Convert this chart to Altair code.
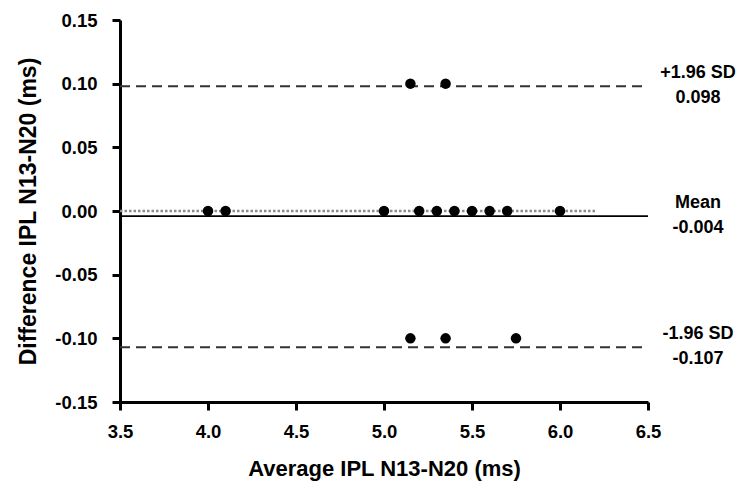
import altair as alt
import pandas as pd

# Data
avg_ipl = [5.15, 5.35, 4.0, 4.1, 5.0, 5.2, 5.3, 5.4, 5.5, 5.6, 5.7, 6.0, 5.15, 5.35, 5.75]
diff_ipl = [0.10, 0.10, 0.0, 0.0, 0.0, 0.0, 0.0, 0.0, 0.0, 0.0, 0.0, 0.0, -0.10, -0.10, -0.10]

limit_names = ["+1.96 SD", "Mean", "-1.96 SD"]
limit_values = [0.098, -0.004, -0.107]
limit_texts = ["0.098", "-0.004", "-0.107"]
limit_kind = ["dash", "solid", "dash"]

x_range = [3.5, 6.5]
zero_line_x = [3.5, 6.2]
zero_line_y = [0.0]

x_ticks = [3.5, 4.0, 4.5, 5.0, 5.5, 6.0, 6.5]
y_ticks = [-0.15, -0.10, -0.05, 0.0, 0.05, 0.10, 0.15]

FONT = "Liberation Sans"

points = pd.DataFrame({"avg": avg_ipl, "diff": diff_ipl})
limits = pd.DataFrame({
    "name": limit_names,
    "value": limit_values,
    "text": limit_texts,
    "kind": limit_kind,
    "x1": [x_range[0]] * 3,
    "x2": [x_range[1]] * 3,
})
zero = pd.DataFrame({"x1": [zero_line_x[0]], "x2": [zero_line_x[1]], "y": zero_line_y})

xscale = alt.Scale(domain=x_range, nice=False, zero=False)
yscale = alt.Scale(domain=[-0.15, 0.15], nice=False, zero=False)

xaxis = alt.Axis(values=x_ticks, format=".1f", title="Average IPL N13-N20 (ms)",
                 titlePadding=18, labelPadding=12, grid=False, labelFlush=False,
                 titleFontSize=22)
yaxis = alt.Axis(values=y_ticks, format=".2f", title="Difference IPL N13-N20 (ms)",
                 labelExpr="replace(datum.label, '\u2212', '-')",
                 titlePadding=14, labelPadding=15, grid=False, labelFlush=False)

base_pts = alt.Chart(points).mark_circle(size=110, color="black", opacity=1).encode(
    x=alt.X("avg:Q", scale=xscale, axis=xaxis),
    y=alt.Y("diff:Q", scale=yscale, axis=yaxis),
)

dotted = alt.Chart(zero).mark_rule(color="#8c8c8c", strokeWidth=2.5, strokeDash=[2.5, 2]).encode(
    x=alt.X("x1:Q", scale=xscale), x2="x2:Q", y=alt.Y("y:Q", scale=yscale)
)

dashed = alt.Chart(limits).transform_filter("datum.kind == 'dash'").mark_rule(
    color="#333333", strokeWidth=2, strokeDash=[10, 6]
).encode(x=alt.X("x1:Q", scale=xscale), x2="x2:Q", y=alt.Y("value:Q", scale=yscale))

solid = alt.Chart(limits).transform_filter("datum.kind == 'solid'").mark_rule(
    color="black", strokeWidth=1.6
).encode(x=alt.X("x1:Q", scale=xscale), x2="x2:Q", y=alt.Y("value:Q", scale=yscale))

name_text = alt.Chart(limits).mark_text(
    font=FONT, fontSize=18, fontWeight="bold", color="black", align="center",
    baseline="middle", dx=50, dy=-13
).encode(x=alt.X("x2:Q", scale=xscale), y=alt.Y("value:Q", scale=yscale), text="name:N")

value_text = alt.Chart(limits).mark_text(
    font=FONT, fontSize=18, fontWeight="bold", color="black", align="center",
    baseline="middle", dx=50, dy=12
).encode(x=alt.X("x2:Q", scale=xscale), y=alt.Y("value:Q", scale=yscale), text="text:N")

chart = alt.layer(dotted, dashed, solid, base_pts, name_text, value_text).properties(
    width=528, height=382,
    autosize=alt.AutoSizeParams(type="none"),
    padding={"left": 112, "top": 12, "right": 90, "bottom": 84},
).configure_view(stroke=None).configure_axis(
    domainColor="black", domainWidth=3, tickColor="black", tickWidth=3, tickSize=8,
    labelFont=FONT, labelFontSize=18.5, labelFontWeight="bold", labelColor="black",
    titleFont=FONT, titleFontSize=23, titleFontWeight="bold", titleColor="black",
)

chart.save("out.html", embed_options={"renderer": "svg", "actions": False})
